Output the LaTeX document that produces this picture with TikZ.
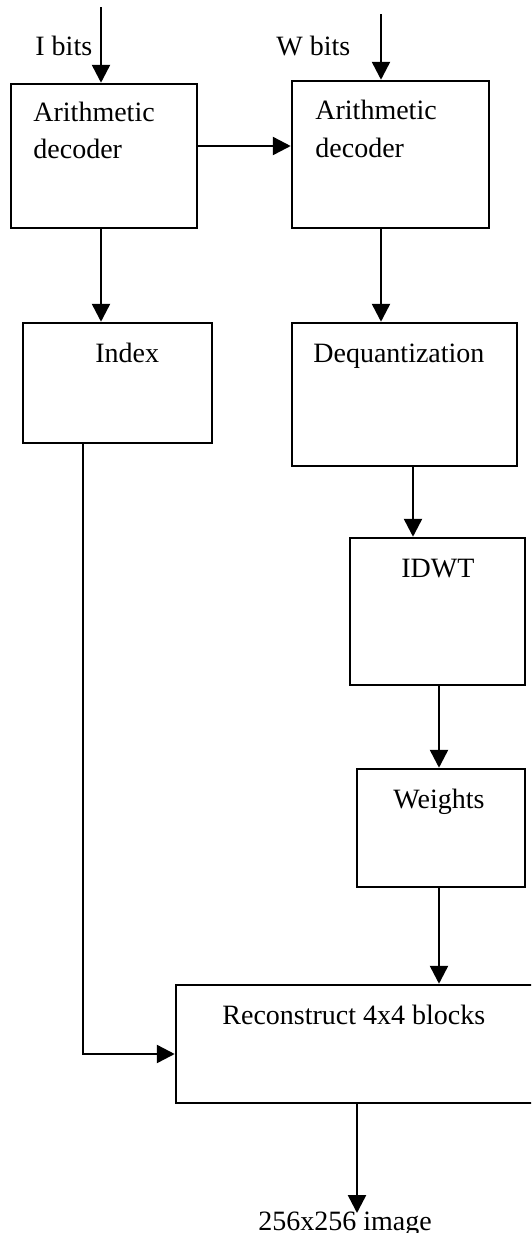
\documentclass[tikz,border=0pt]{standalone}
\usepackage{fontspec}
\setmainfont{Liberation Serif}
\usetikzlibrary{arrows.meta}
\tikzset{
  box/.style={draw, line width=1.25pt, rectangle, inner sep=0pt},
  lbl/.style={anchor=base west, inner sep=0pt, font=\fontsize{14pt}{18.5pt}\selectfont},
  arr/.style={line width=1.25pt, -{Triangle[length=9pt,width=9pt]}},
  ln/.style={line width=1.25pt}
}
\begin{document}
\begin{tikzpicture}[x=0.5pt,y=-0.5pt]
\useasboundingbox (0,0) rectangle (531,1233);
\clip (0,0) rectangle (531,1233);
% boxes
\node[box, minimum width=93pt, minimum height=72pt] (b1) at (104,156) {};
\node[box, minimum width=98.5pt, minimum height=73.5pt] (b2) at (390.5,154.5) {};
\node[box, minimum width=94.5pt, minimum height=60pt] (idx) at (117.5,383) {};
\node[box, minimum width=112.5pt, minimum height=71.5pt] (deq) at (404.5,394.5) {};
\node[box, minimum width=87.5pt, minimum height=73.5pt] (idwt) at (437.5,611.5) {};
\node[box, minimum width=84pt, minimum height=59pt] (wts) at (441,828) {};
\node[box, minimum width=178.5pt, minimum height=59pt] (rec) at (354.5,1044) {};
% labels
\node[lbl] (tI) at (35,55) {I bits};
\node[lbl] (tW) at (276,55) {W bits};
\node[lbl] (t1a) at (33,121) {Arithmetic};
\node[lbl] (t1b) at (33,158) {decoder};
\node[lbl] (t2a) at (315,119) {Arithmetic};
\node[lbl] (t2b) at (315,157) {decoder};
\node[lbl] (tidx) at (95,362) {Index};
\node[lbl] (tdeq) at (313,362) {Dequantization};
\node[lbl] (tidwt) at (401,577) {IDWT};
\node[lbl] (twts) at (393,808) {Weights};
\node[lbl] (trec) at (222,1024) {Reconstruct 4x4 blocks};
\node[lbl] (tout) at (258,1230) {256x256 image};
% free ends
\coordinate (i1) at (101,7);
\coordinate (i2) at (381,14);
\coordinate (o1) at (357,1213);
% connectors
\draw[arr] (i1) -- (i1 |- b1.north);
\draw[arr] (i2) -- (i2 |- b2.north);
\draw[arr] ([yshift=5pt]b1.east) -- ([yshift=4.25pt]b2.west);
\draw[arr] ([xshift=-1.5pt]b1.south) -- ([xshift=-1.5pt]b1.south |- idx.north);
\draw[arr] ([xshift=-4.75pt]b2.south) -- ([xshift=-4.75pt]b2.south |- deq.north);
\draw[arr] ([xshift=4.25pt]deq.south) -- ([xshift=4.25pt]deq.south |- idwt.north);
\draw[arr] ([xshift=0.75pt]idwt.south) -- ([xshift=0.75pt]idwt.south |- wts.north);
\draw[arr] ([xshift=-1pt]wts.south) -- ([xshift=-1pt]wts.south |- rec.north);
\draw[arr] ([xshift=-17.25pt]idx.south) |- ([yshift=-5pt]rec.west);
\draw[arr] ([xshift=1.25pt]rec.south) -- (o1);
\end{tikzpicture}
\end{document}
